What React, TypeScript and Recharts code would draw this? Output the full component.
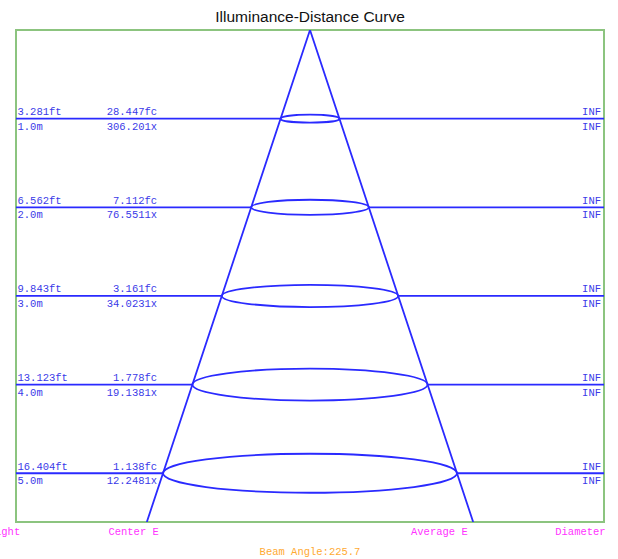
import React from "react";
import { LineChart, Line, XAxis, YAxis, ReferenceArea, ReferenceLine, ReferenceDot } from "recharts";

const distancesM = [1, 2, 3, 4, 5];
const feetLabels = ["3.281ft", "6.562ft", "9.843ft", "13.123ft", "16.404ft"];
const meterLabels = ["1.0m", "2.0m", "3.0m", "4.0m", "5.0m"];
const fcLabels = ["28.447fc", "7.112fc", "3.161fc", "1.778fc", "1.138fc"];
const lxLabels = ["306.201x", "76.5511x", "34.0231x", "19.1381x", "12.2481x"];
const diameterLabels = ["INF", "INF", "INF", "INF", "INF"];
const spotHalfWidth = [1, 2, 3, 4, 5];
const ellipseHalfHeight = [0.045, 0.085, 0.125, 0.18, 0.22];
const coneX = [-5.55, 0, 5.55];
const coneY = [5.55, 0, 5.55];
const footerLabels = ["Height", "Center E", "Average E", "Diameter"];
const footerX = [-10.5, -6.0, 4.4, 9.2];
const beamAngle = "Beam Angle:225.7";
const title = "Illuminance-Distance Curve";

const X_MIN = -10;
const X_MAX = 10;
const Y_MAX = 5.55;

const coneData = coneX.map((x, i) => ({ x, y: coneY[i] }));

const BLUE = "#2a2aff";
const TEXT_BLUE = "#3a3ae8";
const GREEN = "#8cc47f";
const MAGENTA = "#ff33ff";
const ORANGE = "#ffaa33";
const MONO = "'Liberation Mono', 'Courier New', monospace";

const txt = (value: string, dx: number, dy: number, anchor: string, color: string, size = 10.5, family = MONO) =>
  (p: any) => (
    <text
      x={p.cx + dx}
      y={p.cy + dy}
      textAnchor={anchor as any}
      fill={color}
      fontSize={size}
      fontFamily={family}
    >
      {value}
    </text>
  );

export default function App() {
  return (
    <div style={{ position: "absolute", left: 0, top: 0, background: "#fff" }}>
      <LineChart
        width={618}
        height={559}
        data={coneData}
        margin={{ top: 30, right: 14, bottom: 37, left: 16 }}
      >
        <XAxis type="number" dataKey="x" domain={[X_MIN, X_MAX]} hide allowDataOverflow />
        <YAxis type="number" domain={[0, Y_MAX]} reversed hide allowDataOverflow />
        <ReferenceArea
          x1={X_MIN}
          x2={X_MAX}
          y1={0}
          y2={Y_MAX}
          fill="none"
          fillOpacity={0}
          stroke={GREEN}
          strokeWidth={2}
          ifOverflow="visible"
        />
        {distancesM.map((d, i) => (
          <ReferenceLine
            key={"l" + i}
            segment={[{ x: X_MIN, y: d }, { x: -spotHalfWidth[i], y: d }]}
            stroke={BLUE}
            strokeWidth={1.8}
          />
        ))}
        {distancesM.map((d, i) => (
          <ReferenceLine
            key={"r" + i}
            segment={[{ x: spotHalfWidth[i], y: d }, { x: X_MAX, y: d }]}
            stroke={BLUE}
            strokeWidth={1.8}
          />
        ))}
        {distancesM.map((d, i) => (
          <ReferenceArea
            key={"e" + i}
            x1={-spotHalfWidth[i]}
            x2={spotHalfWidth[i]}
            y1={d - ellipseHalfHeight[i]}
            y2={d + ellipseHalfHeight[i]}
            shape={(p: any) => {
              const w = Math.abs(p.width);
              const h = Math.abs(p.height);
              const x = p.width < 0 ? p.x + p.width : p.x;
              const y = p.height < 0 ? p.y + p.height : p.y;
              return (
                <ellipse
                  cx={x + w / 2}
                  cy={y + h / 2}
                  rx={w / 2}
                  ry={h / 2}
                  fill="none"
                  stroke={BLUE}
                  strokeWidth={1.8}
                />
              );
            }}
          />
        ))}
        <Line
          dataKey="y"
          type="linear"
          stroke={BLUE}
          strokeWidth={1.8}
          dot={false}
          activeDot={false}
          isAnimationActive={false}
        />
        {distancesM.map((d, i) => (
          <ReferenceDot key={"ft" + i} x={X_MIN} y={d} r={0} ifOverflow="visible"
            shape={txt(feetLabels[i], 1.5, -3.5, "start", TEXT_BLUE)} />
        ))}
        {distancesM.map((d, i) => (
          <ReferenceDot key={"m" + i} x={X_MIN} y={d} r={0} ifOverflow="visible"
            shape={txt(meterLabels[i], 1.5, 11, "start", TEXT_BLUE)} />
        ))}
        {distancesM.map((d, i) => (
          <ReferenceDot key={"fc" + i} x={-5.2} y={d} r={0} ifOverflow="visible"
            shape={txt(fcLabels[i], 0, -3.5, "end", TEXT_BLUE)} />
        ))}
        {distancesM.map((d, i) => (
          <ReferenceDot key={"lx" + i} x={-5.2} y={d} r={0} ifOverflow="visible"
            shape={txt(lxLabels[i], 0, 11, "end", TEXT_BLUE)} />
        ))}
        {distancesM.map((d, i) => (
          <ReferenceDot key={"inf1" + i} x={X_MAX} y={d} r={0} ifOverflow="visible"
            shape={txt(diameterLabels[i], -3, -3.5, "end", TEXT_BLUE)} />
        ))}
        {distancesM.map((d, i) => (
          <ReferenceDot key={"inf2" + i} x={X_MAX} y={d} r={0} ifOverflow="visible"
            shape={txt(diameterLabels[i], -3, 11, "end", TEXT_BLUE)} />
        ))}
        {footerLabels.map((t, i) => (
          <ReferenceDot key={"f" + i} x={footerX[i]} y={Y_MAX} r={0} ifOverflow="visible"
            shape={txt(t, 0, 13, "middle", MAGENTA)} />
        ))}
        <ReferenceDot x={0} y={Y_MAX} r={0} ifOverflow="visible"
          shape={txt(beamAngle, 0, 33, "middle", ORANGE)} />
        <ReferenceDot x={0} y={0} r={0} ifOverflow="visible"
          shape={txt(title, 0, -8, "middle", "#111", 15.5, "'Liberation Sans', Arial, sans-serif")} />
      </LineChart>
    </div>
  );
}
